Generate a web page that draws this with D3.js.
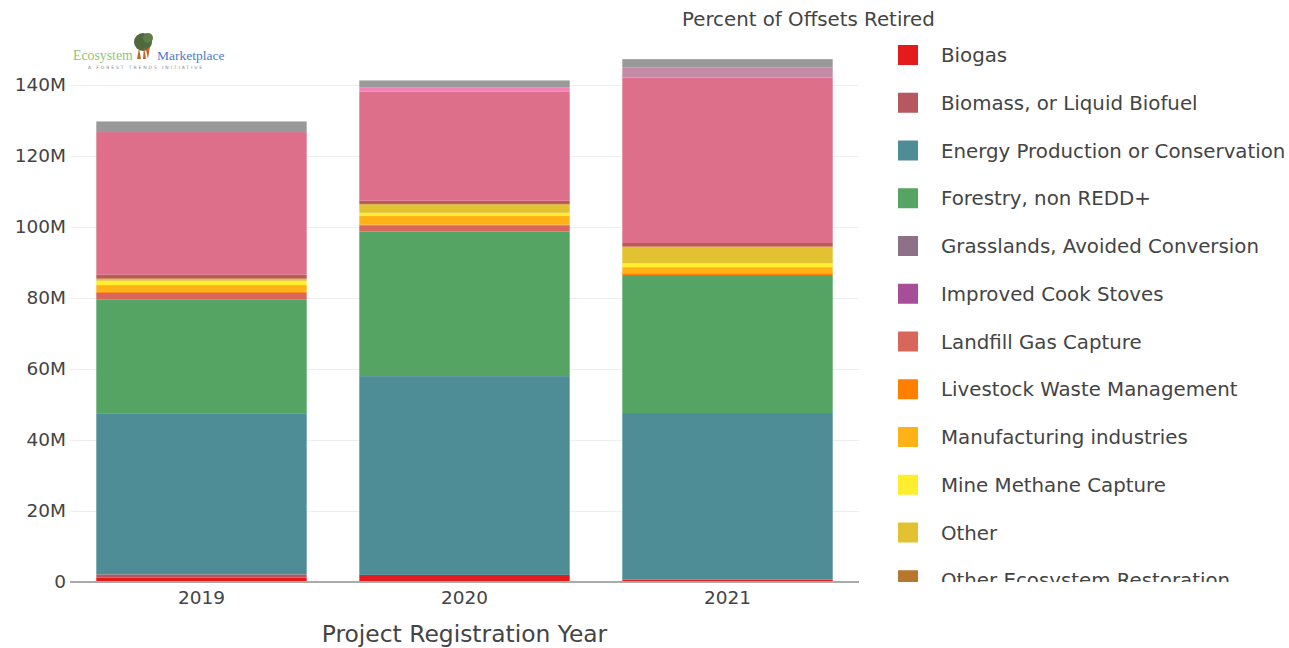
<!DOCTYPE html>
<html>
<head>
<meta charset="utf-8">
<script src="https://cdn.jsdelivr.net/npm/d3@7"></script>
<style>
  html, body { margin: 0; padding: 0; background: #fff; }
  svg { display: block; }
  text { font-family: "DejaVu Sans", Verdana, sans-serif; fill: #444; }
</style>
</head>
<body>
<script>
// ---------------- data (values in millions of offsets) ----------------
const years = ["2019", "2020", "2021"];
const seriesNames = [
  "Biogas",
  "Biomass, or Liquid Biofuel",
  "Energy Production or Conservation",
  "Forestry, non REDD+",
  "Grasslands, Avoided Conversion",
  "Improved Cook Stoves",
  "Landfill Gas Capture",
  "Livestock Waste Management",
  "Manufacturing industries",
  "Mine Methane Capture",
  "Other",
  "Other Ecosystem Restoration",
  "Ozone Depleting Substances",
  "Renewable Energy",
  "Transportation",
  "Waste Disposal",
  "Wetland Restoration"
];
const seriesColors = [
  "#e41a1c", "#b5585f", "#4e8c96", "#55a464", "#8c7187", "#a64f98",
  "#d9665a", "#ff7f00", "#ffb216", "#ffee2d", "#e3c231", "#b8772f",
  "#bc5b4e", "#dd6f8a", "#f082b8", "#c48ba6", "#999999"
];
const biogas        = [1.3, 2.0, 0.7];
const biomass       = [0.85, 0, 0];
const energy        = [45.4, 56.0, 46.9];
const forestry      = [32.1, 40.7, 38.6];
const grasslands    = [0, 0, 0];
const cookStoves    = [0, 0, 0];
const landfill      = [1.8, 1.8, 0.3];
const livestock     = [0.3, 0.2, 0.5];
const manufacturing = [1.9, 2.4, 1.7];
const mineMethane   = [1.2, 0.9, 1.1];
const other         = [0.5, 2.4, 4.6];
const otherEco      = [0.2, 0.1, 0.1];
const ozone         = [1.0, 0.9, 1.0];
const renewable     = [40.2, 30.7, 46.6];
const transportation= [0, 1.3, 0];
const wasteDisposal = [0, 0, 2.8];
const wetland       = [3.0, 1.9, 2.4];
const seriesValues = [biogas, biomass, energy, forestry, grasslands, cookStoves,
  landfill, livestock, manufacturing, mineMethane, other, otherEco, ozone,
  renewable, transportation, wasteDisposal, wetland];
const yTicks = [0, 20, 40, 60, 80, 100, 120, 140];
const legendTitle = "Percent of Offsets Retired";
const xTitle = "Project Registration Year";

// ---------------- layout ----------------
const W = 1289, H = 648;
const plot = { left: 70, right: 859, top: 33, bottom: 582 };

const svg = d3.select("body").append("svg").attr("width", W).attr("height", H);

// table for stacking
const table = years.map((y, i) => {
  const row = { year: y };
  seriesNames.forEach((s, k) => row[s] = seriesValues[k][i]);
  return row;
});
const stacked = d3.stack().keys(seriesNames)(table);
const maxTotal = d3.max(table, r => d3.sum(seriesNames, s => r[s]));

const x = d3.scaleBand().domain(years).range([plot.left, plot.right]).paddingInner(0.2).paddingOuter(0.1);
const y = d3.scaleLinear().domain([0, maxTotal * 1.05]).range([plot.bottom, plot.top]);

// gridlines
const yAxis = d3.axisLeft(y).tickValues(yTicks)
  .tickFormat(d => d === 0 ? "0" : d + "M")
  .tickSize(-(plot.right - plot.left)).tickPadding(4);
const gy = svg.append("g").attr("transform", `translate(${plot.left},0)`).call(yAxis);
gy.select(".domain").remove();
gy.selectAll(".tick line").attr("stroke", "#eeeeee").attr("stroke-width", 1)
  .filter(d => d === 0).remove();
gy.selectAll(".tick text").attr("font-size", 18.5).attr("fill", "#444");

// bars
const color = d3.scaleOrdinal().domain(seriesNames).range(seriesColors);
svg.append("g").selectAll("g").data(stacked).join("g")
  .attr("fill", d => color(d.key))
  .selectAll("rect").data(d => d).join("rect")
  .attr("x", d => x(d.data.year))
  .attr("width", x.bandwidth())
  .attr("y", d => y(d[1]))
  .attr("height", d => Math.max(0, y(d[0]) - y(d[1])));

// zero line
svg.append("line")
  .attr("x1", plot.left).attr("x2", plot.right)
  .attr("y1", y(0)).attr("y2", y(0))
  .attr("stroke", "#aaaaaa").attr("stroke-width", 2);

// x axis
const xAxis = d3.axisBottom(x).tickSize(0).tickPadding(9);
const gx = svg.append("g").attr("transform", `translate(0,${plot.bottom})`).call(xAxis);
gx.select(".domain").remove();
gx.selectAll(".tick text").attr("font-size", 18.5).attr("fill", "#444");

svg.append("text")
  .attr("x", (plot.left + plot.right) / 2).attr("y", 642)
  .attr("text-anchor", "middle").attr("font-size", 23.4)
  .text(xTitle);

// legend (clipped at the bottom like the reference; rows fully outside are not drawn)
svg.append("text").attr("x", 682).attr("y", 26).attr("font-size", 19.8).text(legendTitle);
const clipBottom = 582;
const defs = svg.append("defs");
defs.append("clipPath").attr("id", "legclip").append("rect")
  .attr("x", 860).attr("y", 30).attr("width", 429).attr("height", clipBottom - 30);
const leg = svg.append("g").attr("clip-path", "url(#legclip)");
const rowStep = 47.75, rowStart = 55;
const visibleNames = seriesNames.filter((d, i) => rowStart + i * rowStep - 12 < clipBottom);
const items = leg.selectAll("g").data(visibleNames).join("g")
  .attr("transform", (d, i) => `translate(0,${rowStart + i * rowStep})`);
items.append("rect").attr("x", 898).attr("y", -10).attr("width", 20).attr("height", 20)
  .attr("fill", d => color(d));
items.append("text").attr("x", 941).attr("y", 0).attr("dy", "0.36em")
  .attr("font-size", 19.8).text(d => d);

// logo
const logo = svg.append("g");
logo.append("text").attr("x", 73).attr("y", 60)
  .style("font-family", "'Liberation Serif', serif").attr("font-size", 13.8)
  .style("fill", "#8cc67a").text("Ecosystem");
logo.append("circle").attr("cx", 143).attr("cy", 42).attr("r", 9).attr("fill", "#4e6a3c");
logo.append("circle").attr("cx", 148).attr("cy", 38).attr("r", 5).attr("fill", "#5f7d48");
logo.append("path").attr("d", "M137,59 L139,48 L141,59 Z M143,59 L144,46 L146,59 Z M146,50 L150,46 L148,59 Z")
  .attr("fill", "#c5632c");
logo.append("text").attr("x", 157).attr("y", 60)
  .style("font-family", "'Liberation Serif', serif").attr("font-size", 13.5)
  .style("fill", "#4a7cc8").text("Marketplace");
logo.append("text").attr("x", 88).attr("y", 69)
  .attr("font-size", 4.5).attr("textLength", 114).style("fill", "#888")
  .text("A FOREST TRENDS INITIATIVE");
</script>
</body>
</html>
